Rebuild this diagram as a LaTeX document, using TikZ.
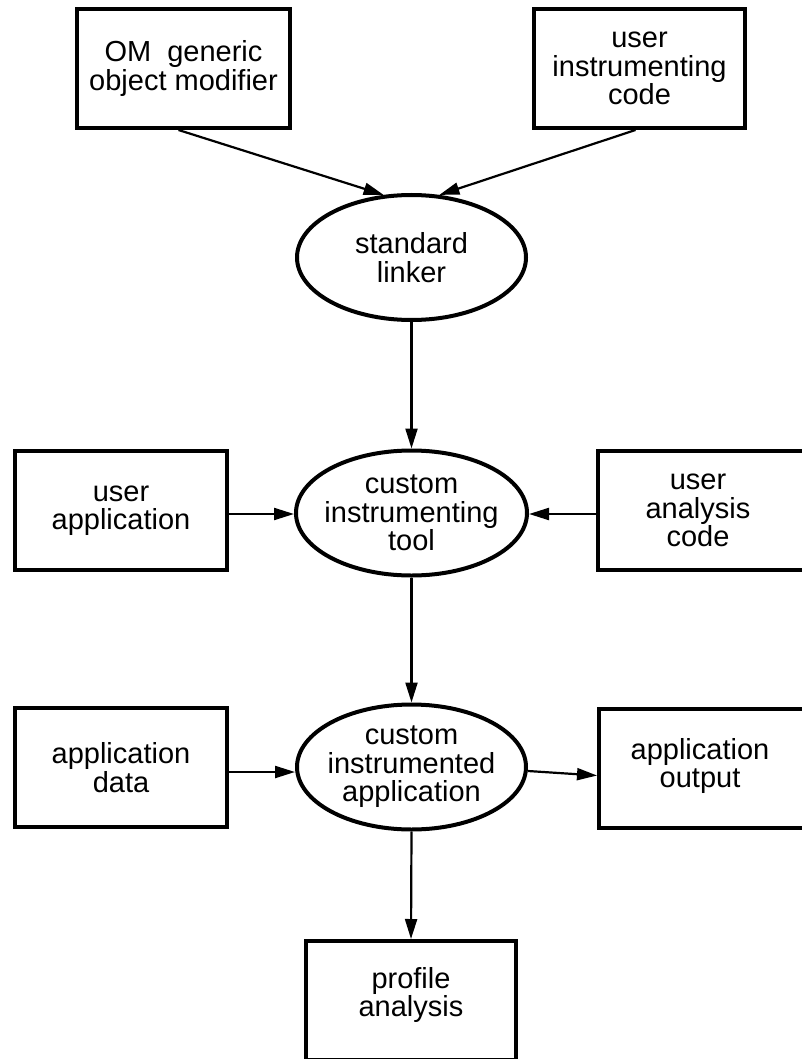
\documentclass[tikz,border=0pt]{standalone}
\usepackage{fontspec}
\setmainfont{Liberation Sans}
\usetikzlibrary{shapes.geometric,arrows.meta}
\begin{document}
\begin{tikzpicture}[x=1pt,y=-1pt,
  every node/.style={font=\fontsize{29}{28.5}\selectfont, align=center},
  box/.style={draw, line width=4pt, rectangle, inner sep=0pt, minimum width=#1, minimum height=119pt},
  box/.default=212pt,
  oval/.style={draw, line width=4pt, ellipse, inner sep=0pt, minimum width=229pt, minimum height=125pt},
  txt/.style={draw=none, inner sep=0pt},
  arr/.style={line width=2.2pt, -{Triangle[length=20pt,width=12pt]}}]
\useasboundingbox (0,0) rectangle (802,1059);
% boxes
\node[box=213pt] (om) at (183.5,68.5) {OM\ \ generic\\object modifier};
\node[box=211pt] (uic) at (639.5,68.5) {user\\instrumenting\\code};
\node[box] (uapp) at (121,510.5) {user\\application};
\node[box=206pt] (uac) at (701,510.5) {};
\node[txt] at (698,510.5) {user\\analysis\\code};
\node[box] (adata) at (121,767.5) {application\\data};
\node[box=205pt] (aout) at (701.5,768.5) {};
\node[txt] at (700,766) {application\\output};
\node[box=210pt] (prof) at (411,1000.5) {};
\node[txt] at (411,995) {profile\\analysis};
% ellipses
\node[oval] (link) at (411.5,257.5) {};
\node[txt] at (link.center) {standard\\linker};
\node[oval, minimum width=231pt] (tool) at (411.5,513) {};
\node[txt] at (tool.center) {custom\\instrumenting\\tool};
\node[oval] (inst) at (411.5,767) {};
\node[txt] at (inst.center) {custom\\instrumented\\application};
% connectors
\draw[arr] ([xshift=-5pt]om.south) -- (link.114);
\draw[arr] ([xshift=-4pt]uic.south) -- (link.66);
\draw[arr] (link.south) -- (tool.north);
\draw[arr] ([yshift=-3.5pt]uapp.east) -- ([yshift=-3.5pt]uapp.east -| tool.west);
\draw[arr] ([yshift=-3.5pt]uac.west) -- ([yshift=-3.5pt]uac.west -| tool.east);
\draw[arr] (tool.south) -- (inst.north);
\draw[arr] ([yshift=-4.5pt]adata.east) -- ([yshift=-4.5pt]adata.east -| inst.west);
\draw[arr] ([yshift=-4pt]inst.east) -- ([yshift=-7pt]aout.west);
\draw[arr] (inst.south) -- (prof.north);
\end{tikzpicture}
\end{document}
